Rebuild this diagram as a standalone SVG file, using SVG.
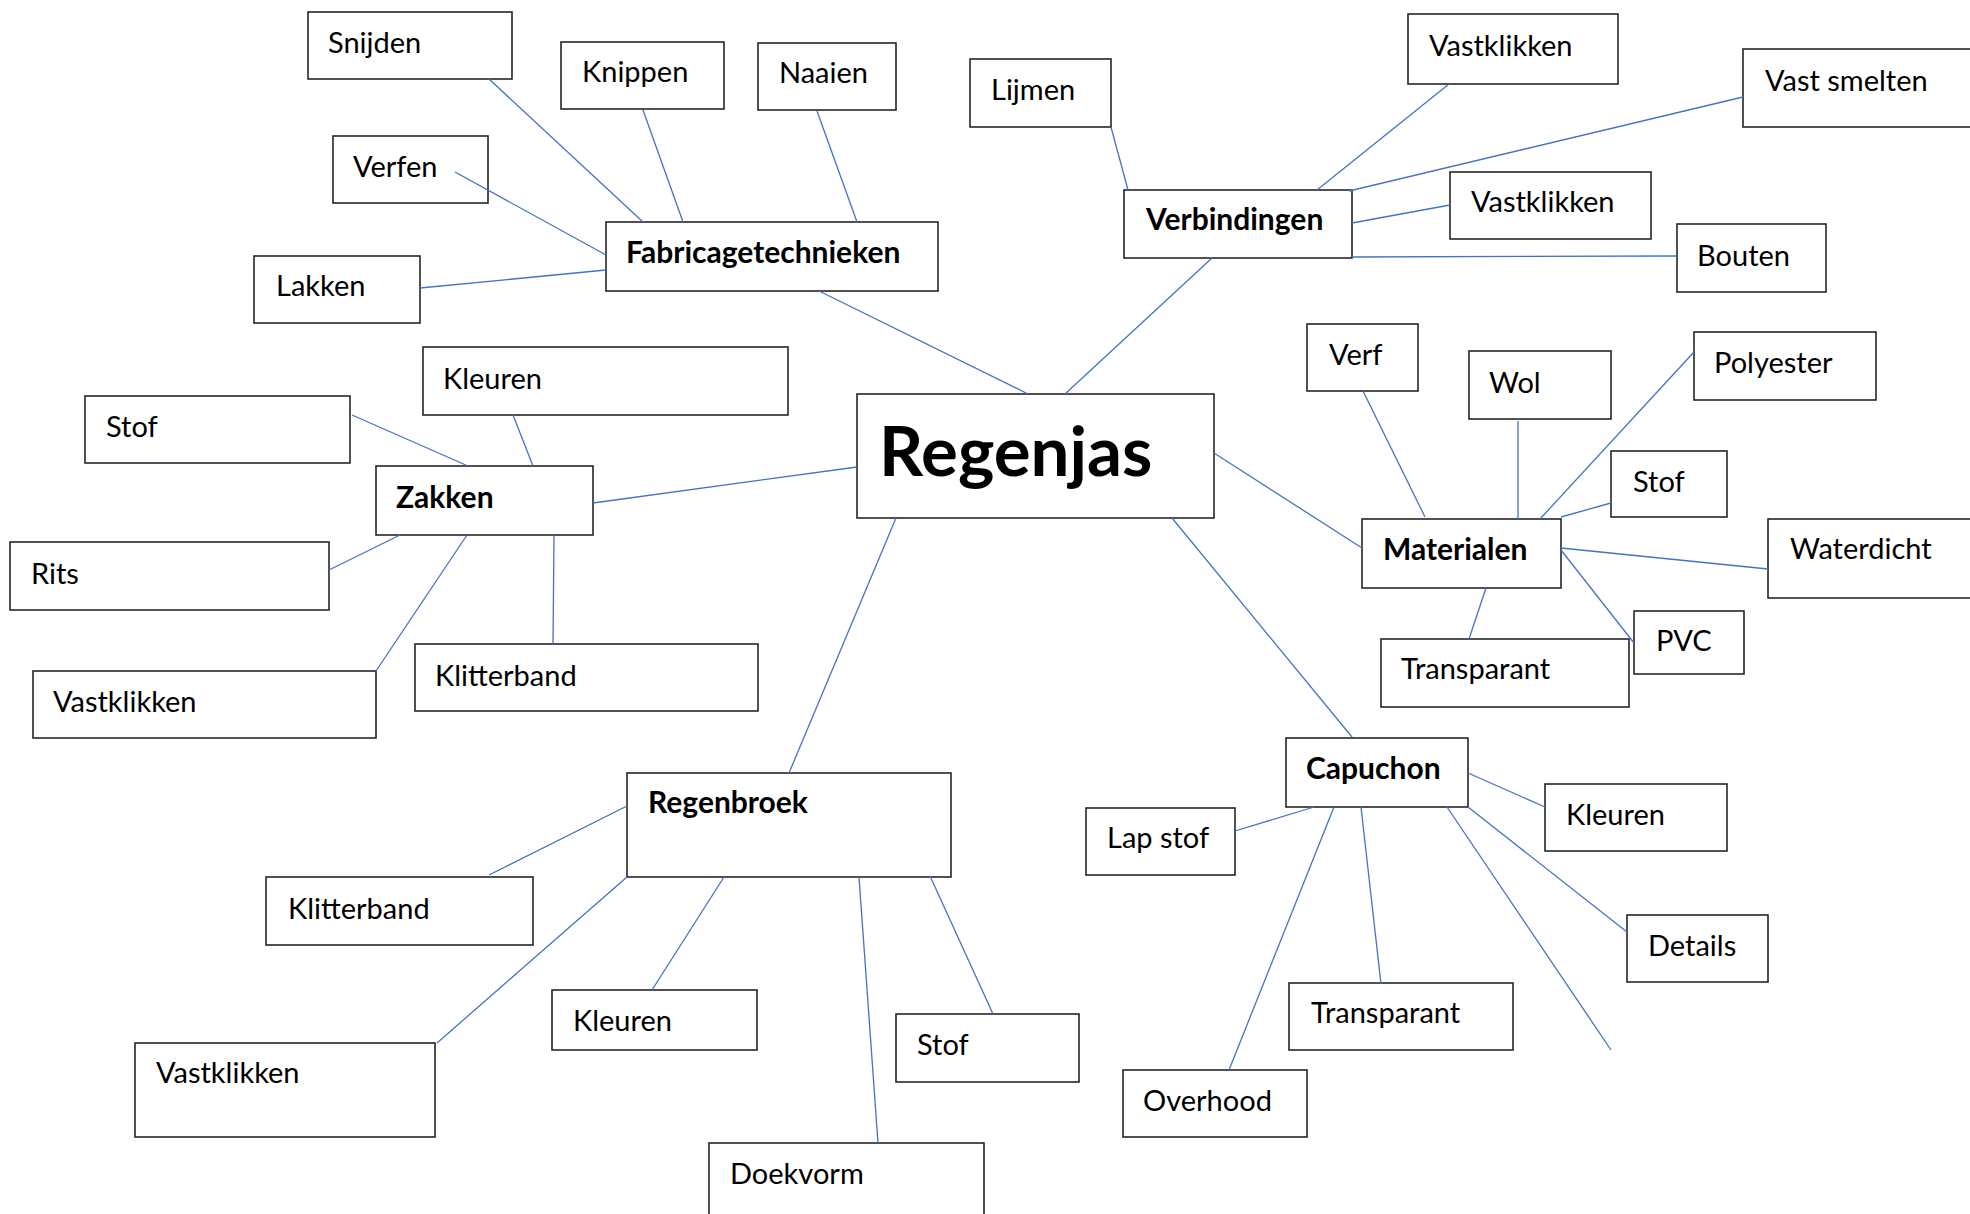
<svg xmlns="http://www.w3.org/2000/svg" width="1970" height="1214" viewBox="0 0 1970 1214">
<style>
.b{fill:#fff;stroke:#262626;stroke-width:1.6}
.t{font-family:Lato,"Liberation Sans",sans-serif;font-size:29px;fill:#000}
.tb{font-family:Lato,"Liberation Sans",sans-serif;font-size:30px;font-weight:bold;fill:#000}
.c line{stroke:#4472C4;stroke-width:1.3}
</style>
<rect width="1970" height="1214" fill="#fff"/>
<g id="regenjas"><rect class="b" x="857" y="394" width="357" height="124"/><text class="tb" x="879" y="476" style="font-size:69px">Regenjas</text></g>
<g id="fabricagetechnieken"><rect class="b" x="606" y="222" width="332" height="69"/><text class="tb" x="626" y="263">Fabricagetechnieken</text></g>
<g id="snijden"><rect class="b" x="308" y="12" width="204" height="67"/><text class="t" x="328" y="53">Snijden</text></g>
<g id="knippen"><rect class="b" x="561" y="42" width="163" height="67"/><text class="t" x="582" y="82">Knippen</text></g>
<g id="naaien"><rect class="b" x="758" y="43" width="138" height="67"/><text class="t" x="779" y="83">Naaien</text></g>
<g id="verfen"><rect class="b" x="333" y="136" width="155" height="67"/><text class="t" x="353" y="177">Verfen</text></g>
<g id="lakken"><rect class="b" x="254" y="256" width="166" height="67"/><text class="t" x="276" y="296">Lakken</text></g>
<g id="verbindingen"><rect class="b" x="1124" y="190" width="228" height="68"/><text class="tb" x="1146" y="230">Verbindingen</text></g>
<g id="lijmen"><rect class="b" x="970" y="59" width="141" height="68"/><text class="t" x="991" y="100">Lijmen</text></g>
<g id="vastklikken1"><rect class="b" x="1408" y="14" width="210" height="70"/><text class="t" x="1429" y="56">Vastklikken</text></g>
<g id="vastsmelten"><rect class="b" x="1743" y="49" width="240" height="78"/><text class="t" x="1765" y="91">Vast smelten</text></g>
<g id="vastklikken2"><rect class="b" x="1450" y="172" width="201" height="67"/><text class="t" x="1471" y="212">Vastklikken</text></g>
<g id="bouten"><rect class="b" x="1677" y="224" width="149" height="68"/><text class="t" x="1697" y="266">Bouten</text></g>
<g id="materialen"><rect class="b" x="1362" y="519" width="199" height="69"/><text class="tb" x="1383" y="560">Materialen</text></g>
<g id="verf"><rect class="b" x="1307" y="324" width="111" height="67"/><text class="t" x="1329" y="365">Verf</text></g>
<g id="wol"><rect class="b" x="1469" y="351" width="142" height="68"/><text class="t" x="1489" y="393">Wol</text></g>
<g id="polyester"><rect class="b" x="1694" y="332" width="182" height="68"/><text class="t" x="1714" y="373">Polyester</text></g>
<g id="stof-mat"><rect class="b" x="1611" y="451" width="116" height="66"/><text class="t" x="1633" y="492">Stof</text></g>
<g id="waterdicht"><rect class="b" x="1768" y="519" width="215" height="79"/><text class="t" x="1790" y="559">Waterdicht</text></g>
<g id="pvc"><rect class="b" x="1634" y="611" width="110" height="63"/><text class="t" x="1656" y="651">PVC</text></g>
<g id="transparant-mat"><rect class="b" x="1381" y="639" width="248" height="68"/><text class="t" x="1401" y="679">Transparant</text></g>
<g id="zakken"><rect class="b" x="376" y="466" width="217" height="69"/><text class="tb" x="396" y="508">Zakken</text></g>
<g id="kleuren-zak"><rect class="b" x="423" y="347" width="365" height="68"/><text class="t" x="443" y="389">Kleuren</text></g>
<g id="stof-zak"><rect class="b" x="85" y="396" width="265" height="67"/><text class="t" x="106" y="437">Stof</text></g>
<g id="rits"><rect class="b" x="10" y="542" width="319" height="68"/><text class="t" x="31" y="584">Rits</text></g>
<g id="vastklikken-zak"><rect class="b" x="33" y="671" width="343" height="67"/><text class="t" x="53" y="712">Vastklikken</text></g>
<g id="klitterband-zak"><rect class="b" x="415" y="644" width="343" height="67"/><text class="t" x="435" y="686">Klitterband</text></g>
<g id="regenbroek"><rect class="b" x="627" y="773" width="324" height="104"/><text class="tb" x="648" y="813">Regenbroek</text></g>
<g id="klitterband-rb"><rect class="b" x="266" y="877" width="267" height="68"/><text class="t" x="288" y="919">Klitterband</text></g>
<g id="vastklikken-rb"><rect class="b" x="135" y="1043" width="300" height="94"/><text class="t" x="156" y="1083">Vastklikken</text></g>
<g id="kleuren-rb"><rect class="b" x="552" y="990" width="205" height="60"/><text class="t" x="573" y="1031">Kleuren</text></g>
<g id="stof-rb"><rect class="b" x="896" y="1014" width="183" height="68"/><text class="t" x="917" y="1055">Stof</text></g>
<g id="doekvorm"><rect class="b" x="709" y="1143" width="275" height="90"/><text class="t" x="730" y="1184">Doekvorm</text></g>
<g id="capuchon"><rect class="b" x="1286" y="738" width="182" height="69"/><text class="tb" x="1306" y="779">Capuchon</text></g>
<g id="lapstof"><rect class="b" x="1086" y="808" width="149" height="67"/><text class="t" x="1107" y="848">Lap stof</text></g>
<g id="kleuren-cap"><rect class="b" x="1545" y="784" width="182" height="67"/><text class="t" x="1566" y="825">Kleuren</text></g>
<g id="details"><rect class="b" x="1627" y="915" width="141" height="67"/><text class="t" x="1648" y="956">Details</text></g>
<g id="transparant-cap"><rect class="b" x="1289" y="983" width="224" height="67"/><text class="t" x="1311" y="1023">Transparant</text></g>
<g id="overhood"><rect class="b" x="1123" y="1070" width="184" height="67"/><text class="t" x="1143" y="1111">Overhood</text></g>
<g class="c" id="connectors">
<line x1="489" y1="79" x2="643" y2="222"/>
<line x1="643" y1="110" x2="683" y2="222"/>
<line x1="817" y1="111" x2="857" y2="222"/>
<line x1="455" y1="172" x2="606" y2="255"/>
<line x1="420" y1="288" x2="606" y2="270"/>
<line x1="819" y1="291" x2="1028" y2="394"/>
<line x1="1111" y1="127" x2="1128" y2="190"/>
<line x1="1449" y1="84" x2="1317" y2="190"/>
<line x1="1743" y1="97" x2="1349" y2="191"/>
<line x1="1450" y1="205" x2="1352" y2="223"/>
<line x1="1677" y1="256" x2="1352" y2="257"/>
<line x1="1212" y1="258" x2="1065" y2="394"/>
<line x1="1214" y1="453" x2="1362" y2="548"/>
<line x1="1363" y1="391" x2="1425" y2="517"/>
<line x1="1518" y1="421" x2="1518" y2="519"/>
<line x1="1694" y1="352" x2="1540" y2="519"/>
<line x1="1611" y1="503" x2="1561" y2="517"/>
<line x1="1768" y1="569" x2="1561" y2="548"/>
<line x1="1634" y1="643" x2="1561" y2="550"/>
<line x1="1469" y1="639" x2="1486" y2="588"/>
<line x1="1172" y1="518" x2="1352" y2="737"/>
<line x1="352" y1="415" x2="468" y2="466"/>
<line x1="513" y1="415" x2="533" y2="466"/>
<line x1="593" y1="503" x2="857" y2="467"/>
<line x1="329" y1="570" x2="400" y2="535"/>
<line x1="376" y1="671" x2="467" y2="535"/>
<line x1="553" y1="644" x2="554" y2="535"/>
<line x1="896" y1="518" x2="789" y2="773"/>
<line x1="627" y1="806" x2="489" y2="875"/>
<line x1="627" y1="877" x2="437" y2="1043"/>
<line x1="724" y1="877" x2="652" y2="990"/>
<line x1="859" y1="877" x2="878" y2="1143"/>
<line x1="930" y1="876" x2="993" y2="1014"/>
<line x1="1314" y1="807" x2="1235" y2="831"/>
<line x1="1334" y1="807" x2="1229" y2="1070"/>
<line x1="1361" y1="807" x2="1381" y2="984"/>
<line x1="1447" y1="807" x2="1611" y2="1050"/>
<line x1="1468" y1="807" x2="1627" y2="932"/>
<line x1="1468" y1="773" x2="1545" y2="807"/>
</g>
</svg>
